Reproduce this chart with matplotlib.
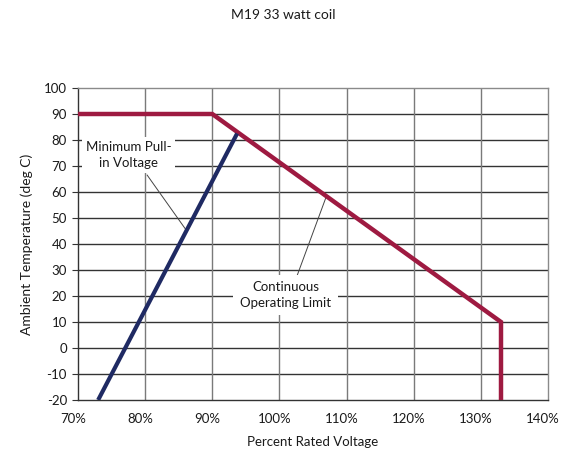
import matplotlib
matplotlib.use('Agg')
import matplotlib.pyplot as plt
import matplotlib.transforms as mtransforms

# data
limit_x = [70, 90, 133, 133]
limit_y = [90, 90, 10, -20]
pullin_x = [73, 93.7]
pullin_y = [-20, 82.5]

x_ticks = [70, 80, 90, 100, 110, 120, 130, 140]
x_labels = ['70%', '80%', '90%', '100%', '110%', '120%', '130%', '140%']
y_ticks = list(range(-20, 101, 10))

RED = '#9e1a41'
BLUE = '#1f2a63'
TEXT = '#1a1a1a'

plt.rcParams['font.family'] = ['Lato', 'DejaVu Sans']
plt.rcParams['axes.unicode_minus'] = False

fig = plt.figure(figsize=(5.67, 4.61), dpi=100)
fig.patch.set_facecolor('white')
ax = fig.add_axes([78 / 567, 1 - 400 / 461, 470 / 567, 312 / 461])

ax.set_xlim(70, 140)
ax.set_ylim(-20, 100)
ax.set_xticks(x_ticks)
ax.set_xticklabels(x_labels)
ax.set_yticks(y_ticks)

# Excel-like grid: dark horizontal, lighter vertical
for y in y_ticks[1:-1]:
    ax.axhline(y, color='#333333', lw=1.0, zorder=1)
for x in x_ticks[1:-1]:
    ax.axvline(x, color='#7a7a7a', lw=1.0, zorder=1)

for side in ['top', 'right']:
    ax.spines[side].set_color('#8a8a8a')
for side in ['left', 'bottom']:
    ax.spines[side].set_color('#333333')
for s in ax.spines.values():
    s.set_linewidth(1.0)

ax.tick_params(axis='y', length=4, color='#333333', labelsize=9.5, labelcolor=TEXT, pad=4)
ax.tick_params(axis='x', length=0, labelsize=9.5, labelcolor=TEXT, pad=9)

# labels sit a little left of the gridlines in the original
offset = mtransforms.ScaledTranslation(-5 / 100, 0, fig.dpi_scale_trans)
for lbl in ax.get_xticklabels():
    lbl.set_transform(lbl.get_transform() + offset)

ax.plot(limit_x, limit_y, color=RED, lw=3.2, solid_capstyle='butt', solid_joinstyle='miter', zorder=4)
ax.plot(pullin_x, pullin_y, color=BLUE, lw=3.0, solid_capstyle='butt', zorder=4)

# leader lines
ax.plot([80.3, 86.1], [66.5, 45.4], color='#444444', lw=0.7, zorder=3)
ax.plot([102.5, 106.9], [26.9, 57.7], color='#444444', lw=0.7, zorder=3)

box = dict(boxstyle='square,pad=0.3', facecolor='white', edgecolor='none')
ax.text(77.5, 74.2, 'Minimum Pull-\nin Voltage', ha='center', va='center',
        fontsize=9.5, color=TEXT, linespacing=1.35, bbox=box, zorder=5)
ax.text(100.9, 20.4, 'Continuous\nOperating Limit', ha='center', va='center',
        fontsize=9.5, color=TEXT, linespacing=1.35,
        bbox=dict(boxstyle='square,pad=0.5', facecolor='white', edgecolor='none'), zorder=5)

fig.text(283 / 567, 1 - 15 / 461, 'M19 33 watt coil', ha='center', va='center',
         fontsize=10, color=TEXT)
ax.set_xlabel('Percent Rated Voltage', fontsize=9.5, color=TEXT, labelpad=8)
ax.set_ylabel('Ambient Temperature (deg C)', fontsize=10, color=TEXT, labelpad=8)

fig.savefig('out.png', dpi=100, facecolor='white')
plt.close(fig)
